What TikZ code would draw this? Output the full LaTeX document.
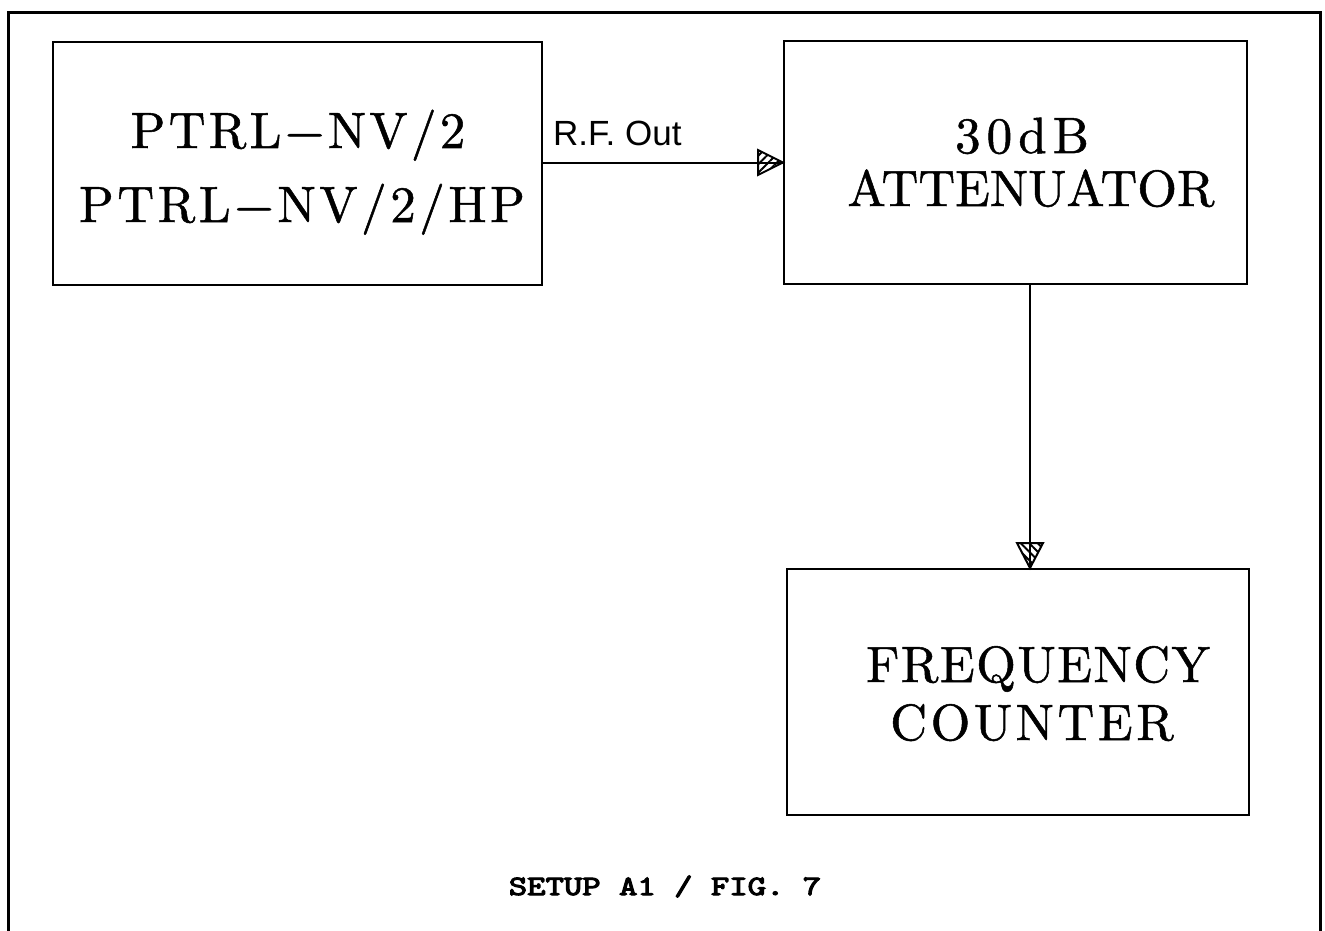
\documentclass[tikz,border=0pt]{standalone}
\usepackage{fontspec}
\usetikzlibrary{patterns.meta}
\newfontfamily\sansf{Liberation Sans}
\newfontfamily\cmten{lmroman10-regular.otf}[FakeBold=1]
\newfontfamily\capfont{lmmono10-regular.otf}[FakeBold=3.5]
\tikzset{
  box/.style={draw, line width=2pt, inner sep=0pt},
  lbl/.style={inner sep=0pt, anchor=base, font=\cmten\fontsize{51}{51}\selectfont},
  conn/.style={line width=2pt},
  headh/.style={line width=2pt, line join=miter, pattern={Lines[angle=45,distance=6pt,line width=2pt]}},
  headv/.style={line width=2pt, line join=miter, pattern={Lines[angle=-45,distance=6pt,line width=2pt]}},
}
\begin{document}
\begin{tikzpicture}[x=1pt,y=-1pt]
\useasboundingbox (0,0) rectangle (1325,931);
\fill[white] (0,0) rectangle (1325,931);
% outer frame (open at bottom)
\draw[line width=3pt] (8.5,931) -- (8.5,13) -- (1320,13) -- (1320,931);
% boxes
\node[box, minimum width=489pt, minimum height=243pt] (b1) at (297.5,163.5) {};
\node[box, minimum width=463pt, minimum height=243pt] (b2) at (1015.5,162.5) {};
\node[box, minimum width=462pt, minimum height=246pt] (b3) at (1018,692) {};
% box texts
\node[lbl] (t1a) at (298,148) {\addfontfeatures{LetterSpace=6.5}PTRL−NV/2};
\node[lbl] (t1b) at (302,222) {\addfontfeatures{LetterSpace=7}PTRL−NV/2/HP};
\node[lbl] (t2a) at (1022,153) {\addfontfeatures{LetterSpace=12}30dB};
\node[lbl] (t2b) at (1031,206) {ATTENUATOR};
\node[lbl] (t3a) at (1038,682) {\addfontfeatures{LetterSpace=3}FREQUENCY};
\node[lbl] (t3b) at (1032,740) {\addfontfeatures{LetterSpace=7}COUNTER};
% connector label
\node[inner sep=0pt, anchor=base west, font=\sansf\fontsize{35}{35}\selectfont] (rf) at (553,146) {R.F. Out};
% connectors
\coordinate (vx) at (1030,0);
\draw[conn] (b1.east |- b2.west) -- (b2.west);
\draw[headh] (b2.west) -- ++(-25,12.5) -- ++(0,-25) -- cycle;
\draw[conn] (b2.south -| vx) -- (b3.north -| vx);
\draw[headv] (b3.north -| vx) -- ++(-13,-25) -- ++(26,0) -- cycle;
% caption
\node[inner sep=0pt, anchor=base] (cap) at (665,895) {\scalebox{1.25}[1]{\capfont\fontsize{28}{28}\selectfont SETUP A1 / FIG. 7}};
\end{tikzpicture}
\end{document}
